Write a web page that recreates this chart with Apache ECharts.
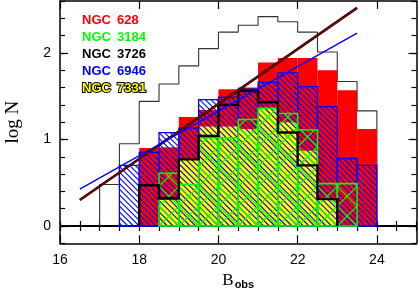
<!DOCTYPE html>
<html><head><meta charset="utf-8">
<script src="https://cdn.jsdelivr.net/npm/echarts@6/dist/echarts.min.js"></script>
<style>html,body{margin:0;padding:0;background:#fff}#c{width:418px;height:289px}</style>
</head><body><div id="c"></div>
<script>
// ---- data (log N per 0.5 mag bin, bins given by their left edge) ----
const binLeft = [17, 17.5, 18, 18.5, 19, 19.5, 20, 20.5, 21, 21.5, 22, 22.5, 23, 23.5];
const binWidth = 0.5;
const allGalaxies = [0.48, 0.95, 1.44, 1.64, 1.85, 2.05, 2.24, 2.32, 2.42, 2.36, 2.24, 2.01, 1.67, 1.33];
const ngc628  = [null, null, 0.90, 0.91, 1.26, 1.34, 1.58, 1.60, 1.89, 1.94, 1.94, 1.80, 1.57, 1.12];
const ngc3184 = [null, null, null, 0.61, 0.48, 1.02, 1.02, 1.23, 1.36, 1.30, 1.11, 0.49, 0.49, null];
const ngc3726 = [null, null, 0.47, 0.32, 0.77, 1.04, 1.40, 1.56, 1.43, 1.08, 0.70, 0.31, null, null];
const ngc6946 = [null, 0.70, 0.85, 1.08, 1.13, 1.46, 1.49, 1.58, 1.66, 1.77, 1.61, 1.38, 0.78, 0.70];
const ngc7331 = [null, null, null, 0.30, 0.77, 1.15, 1.15, 1.12, 1.36, 1.20, 0.87, 0.31, null, null];
const fitX = [16.5, 23.5];
const fit628 = [0.30, 2.52];
const fit6946 = [0.425, 2.23];
const xTickLabels = [16, 18, 20, 22, 24];
const yTickLabels = [0, 1, 2];
const legendNames = ['NGC', 'NGC', 'NGC', 'NGC', 'NGC'];
const legendNumbers = ['628', '3184', '3726', '6946', '7331'];
const legendColors = ['#ff0000', '#00ff00', '#000000', '#0000ff', '#ffff00'];

// ---- helpers ----
const xMinor = []; for (let v = 16; v <= 25.001; v += 0.5) xMinor.push(+v.toFixed(2));
const yMinor = []; for (let v = -0.2; v <= 2.601; v += 0.2) yMinor.push(+v.toFixed(2));

function boxes(vals) {
  return binLeft.map((x, i) => vals[i] == null ? null : [x, vals[i]]).filter(Boolean);
}
function outline(vals) {
  const pts = []; let last = null;
  binLeft.forEach((x, i) => {
    const v = vals[i]; if (v == null) return;
    if (!pts.length) pts.push([x, 0]);
    pts.push([x, v], [x + binWidth, v]); last = x + binWidth;
  });
  pts.push([last, 0]);
  return pts;
}
function rectOf(api) {
  const x0 = api.value(0), h = api.value(1);
  const p0 = api.coord([x0, 0]), p1 = api.coord([x0 + binWidth, h]);
  return {L: p0[0], R: p1[0], T: p1[1], B: p0[1]};
}
function fillRender(color) {
  return function (params, api) {
    const r = rectOf(api);
    return {type: 'rect', shape: {x: r.L, y: r.T, width: r.R - r.L, height: r.B - r.T}, style: {fill: color}};
  };
}
function hatchRender(color, dirs, periodFn, lineW, boxW) {
  return function (params, api) {
    const r = rectOf(api); const {L, R, T, B} = r;
    const per = periodFn(R - L);
    const o = api.coord([16, 0]);
    const children = [];
    dirs.forEach(d => {
      if (d === 1) { // x - y = c
        const base = o[0] - o[1];
        const cmin = L - B, cmax = R - T;
        let c = base + Math.ceil((cmin - base) / per) * per;
        for (; c <= cmax; c += per) {
          const xs = Math.max(L, T + c), xe = Math.min(R, B + c);
          if (xe > xs) children.push({type: 'line', shape: {x1: xs, y1: xs - c, x2: xe, y2: xe - c}, style: {stroke: color, lineWidth: lineW}});
        }
      } else { // x + y = c
        const base = o[0] + o[1];
        const cmin = L + T, cmax = R + B;
        let c = base + Math.ceil((cmin - base) / per) * per;
        for (; c <= cmax; c += per) {
          const xs = Math.max(L, c - B), xe = Math.min(R, c - T);
          if (xe > xs) children.push({type: 'line', shape: {x1: xs, y1: c - xs, x2: xe, y2: c - xe}, style: {stroke: color, lineWidth: lineW}});
        }
      }
    });
    children.push({type: 'rect', shape: {x: L, y: T, width: R - L, height: B - T}, style: {fill: 'none', stroke: color, lineWidth: boxW}});
    return {type: 'group', children};
  };
}

const chart = echarts.init(document.getElementById('c'), null, {renderer: 'canvas'});
const gridBox = {left: 60, right: 1.5, top: 1, bottom: 45.7, outerBoundsMode: 'none', containLabel: false};
const frameLine = {show: true, onZero: false, lineStyle: {color: '#000', width: 1.5}};
const majorTick = (vals) => ({show: true, inside: true, length: 8, customValues: vals, lineStyle: {color: '#000', width: 1.2}});
const minorTickAx = (vals) => ({show: true, inside: true, length: 5, customValues: vals, lineStyle: {color: '#000', width: 1.2}});
const noLabel = {show: false};
const noSplit = {show: false};

const legendGraphics = [];
legendNumbers.forEach((num, i) => {
  const y = 20 + i * 17.1;
  const st = {fill: legendColors[i], font: 'bold 13px "Liberation Sans"', textVerticalAlign: 'middle', verticalAlign: 'middle'};
  if (i === 4) { st.stroke = '#000'; st.lineWidth = 2; }
  legendGraphics.push({type: 'text', x: 82, y: y, z: 20, style: Object.assign({text: legendNames[i]}, st)});
  legendGraphics.push({type: 'text', x: 117, y: y, z: 20, style: Object.assign({text: num}, st)});
});

const option = {
  animation: false,
  backgroundColor: '#fff',
  grid: [Object.assign({}, gridBox), Object.assign({}, gridBox)],
  xAxis: [
    {gridIndex: 0, type: 'value', position: 'bottom', min: 16, max: 25, axisLine: frameLine, axisTick: majorTick(xTickLabels),
     axisLabel: {show: true, customValues: xTickLabels, margin: 10, color: '#000', fontSize: 14, fontFamily: 'Liberation Sans'},
     splitLine: noSplit,
     name: '{b|B}{s|obs}', nameLocation: 'middle', nameGap: 25,
     nameTextStyle: {rich: {b: {fontFamily: 'Liberation Serif', fontSize: 17, color: '#000', lineHeight: 18, verticalAlign: 'top'},
                            s: {fontFamily: 'Liberation Sans', fontWeight: 'bold', fontSize: 11, color: '#000', lineHeight: 12, padding: [7, 0, 0, 1], verticalAlign: 'bottom'}}}},
    {gridIndex: 0, type: 'value', position: 'top', min: 16, max: 25, axisLine: frameLine, axisTick: majorTick(xTickLabels), axisLabel: noLabel, splitLine: noSplit},
    {gridIndex: 1, type: 'value', position: 'bottom', min: 16, max: 25, axisLine: {show: false}, axisTick: minorTickAx(xMinor), axisLabel: noLabel, splitLine: noSplit},
    {gridIndex: 1, type: 'value', position: 'top', min: 16, max: 25, axisLine: {show: false}, axisTick: minorTickAx(xMinor), axisLabel: noLabel, splitLine: noSplit}
  ],
  yAxis: [
    {gridIndex: 0, type: 'value', position: 'left', min: -0.2, max: 2.6, axisLine: frameLine, axisTick: majorTick(yTickLabels),
     axisLabel: {show: true, customValues: yTickLabels, margin: 9, color: '#000', fontSize: 14, fontFamily: 'Liberation Sans'},
     splitLine: noSplit,
     name: 'log N', nameLocation: 'middle', nameRotate: 90, nameGap: 37,
     nameTextStyle: {fontFamily: 'Liberation Serif', fontSize: 19, color: '#000'}},
    {gridIndex: 0, type: 'value', position: 'right', min: -0.2, max: 2.6, axisLine: frameLine, axisTick: majorTick(yTickLabels), axisLabel: noLabel, splitLine: noSplit},
    {gridIndex: 1, type: 'value', position: 'left', min: -0.2, max: 2.6, axisLine: {show: false}, axisTick: minorTickAx(yMinor), axisLabel: noLabel, splitLine: noSplit},
    {gridIndex: 1, type: 'value', position: 'right', min: -0.2, max: 2.6, axisLine: {show: false}, axisTick: minorTickAx(yMinor), axisLabel: noLabel, splitLine: noSplit}
  ],
  graphic: legendGraphics,
  series: [
    {type: 'line', xAxisIndex: 0, yAxisIndex: 0, z: 1, data: [[16, 0], [25, 0]], symbol: 'none', lineStyle: {color: '#000', width: 2}, silent: true},
    {type: 'line', xAxisIndex: 0, yAxisIndex: 0, z: 2, data: outline(allGalaxies), symbol: 'none', lineStyle: {color: '#333', width: 1.1}, silent: true},
    {type: 'custom', name: 'NGC 628', xAxisIndex: 0, yAxisIndex: 0, z: 3, data: boxes(ngc628), renderItem: fillRender('#ff0000'), clip: true},
    {type: 'custom', name: 'NGC 7331', xAxisIndex: 0, yAxisIndex: 0, z: 4, data: boxes(ngc7331), renderItem: fillRender('#ffff00'), clip: true},
    {type: 'custom', name: 'NGC 6946', xAxisIndex: 0, yAxisIndex: 0, z: 5, data: boxes(ngc6946), renderItem: hatchRender('#0000ff', [1], w => w / 3.5, 1.1, 1.3), clip: true},
    {type: 'custom', name: 'NGC 3184', xAxisIndex: 0, yAxisIndex: 0, z: 6, data: boxes(ngc3184), renderItem: hatchRender('#00ff00', [1, -1], w => w, 1.2, 1.6), clip: true},
    {type: 'line', name: 'NGC 3726', xAxisIndex: 0, yAxisIndex: 0, z: 7, data: outline(ngc3726), symbol: 'none', lineStyle: {color: '#000', width: 2.4, join: 'miter'}, silent: true},
    {type: 'line', xAxisIndex: 0, yAxisIndex: 0, z: 8, data: fitX.map((x, i) => [x, fit628[i]]), symbol: 'none', lineStyle: {color: '#000', width: 2.6}, silent: true},
    {type: 'line', xAxisIndex: 0, yAxisIndex: 0, z: 9, data: fitX.map((x, i) => [x, fit628[i]]), symbol: 'none', lineStyle: {color: '#990000', width: 1.2}, silent: true},
    {type: 'line', xAxisIndex: 0, yAxisIndex: 0, z: 9, data: fitX.map((x, i) => [x, fit6946[i]]), symbol: 'none', lineStyle: {color: '#0000ff', width: 1.4}, silent: true}
  ]
};
chart.setOption(option);
</script>
</body></html>
